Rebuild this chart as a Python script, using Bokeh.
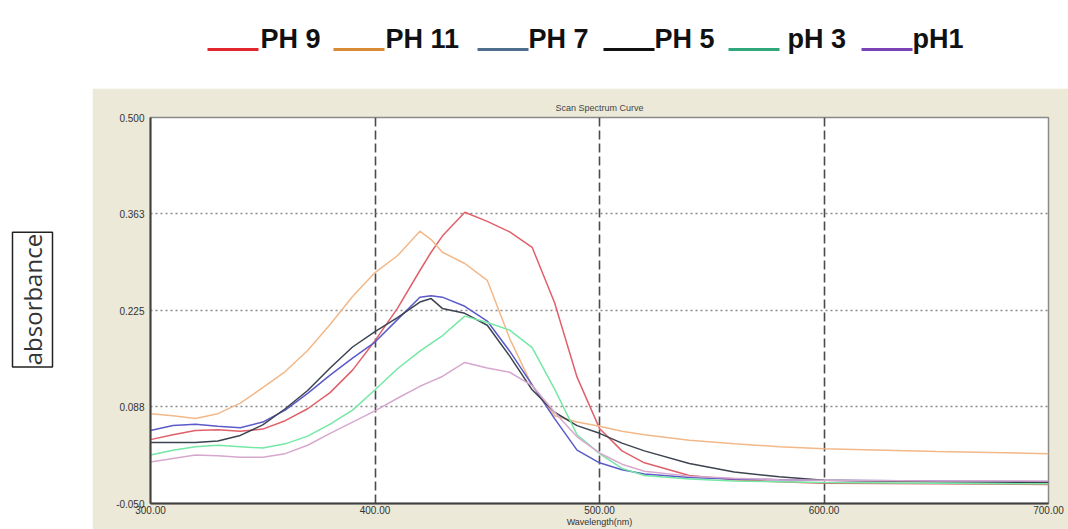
import math
from bokeh.plotting import figure
from bokeh.layouts import column, row
from bokeh.models import Range1d, FixedTicker, NumeralTickFormatter
from bokeh.core.properties import value
from bokeh.embed import file_html
from bokeh.resources import INLINE

# ---------------- data ----------------
wavelength = [300, 310, 320, 330, 340, 350, 360, 370, 380, 390, 400, 410, 420, 425,
              430, 440, 450, 460, 470, 480, 490, 500, 510, 520, 540, 560, 580, 600, 650, 700]

ph9 = [0.041, 0.048, 0.054, 0.055, 0.053, 0.056, 0.068, 0.085, 0.108, 0.140, 0.182, 0.228, 0.282, 0.308,
       0.331, 0.365, 0.352, 0.337, 0.315, 0.236, 0.130, 0.057, 0.025, 0.008, -0.010, -0.016, -0.019, -0.021, -0.022, -0.023]
ph11 = [0.078, 0.075, 0.071, 0.078, 0.093, 0.115, 0.138, 0.168, 0.205, 0.245, 0.279, 0.303, 0.338, 0.326,
        0.308, 0.292, 0.268, 0.185, 0.118, 0.075, 0.066, 0.060, 0.053, 0.048, 0.040, 0.035, 0.031, 0.028, 0.024, 0.021]
ph7 = [0.054, 0.061, 0.063, 0.060, 0.058, 0.066, 0.083, 0.107, 0.133, 0.157, 0.180, 0.212, 0.244, 0.246,
       0.244, 0.231, 0.210, 0.167, 0.119, 0.071, 0.026, 0.008, -0.002, -0.008, -0.013, -0.015, -0.016, -0.017, -0.018, -0.019]
ph5 = [0.037, 0.037, 0.037, 0.039, 0.047, 0.062, 0.085, 0.111, 0.143, 0.173, 0.195, 0.215, 0.237, 0.242,
       0.228, 0.221, 0.204, 0.160, 0.112, 0.080, 0.061, 0.050, 0.036, 0.025, 0.007, -0.005, -0.012, -0.017, -0.019, -0.020]
ph3 = [0.019, 0.026, 0.031, 0.033, 0.031, 0.029, 0.035, 0.046, 0.063, 0.083, 0.112, 0.142, 0.167, 0.178,
       0.189, 0.217, 0.208, 0.197, 0.172, 0.113, 0.048, 0.021, 0.000, -0.010, -0.015, -0.018, -0.019, -0.020, -0.021, -0.022]
ph1 = [0.009, 0.014, 0.019, 0.018, 0.016, 0.016, 0.021, 0.033, 0.050, 0.066, 0.082, 0.100, 0.117, 0.124,
       0.131, 0.151, 0.143, 0.137, 0.118, 0.080, 0.045, 0.022, 0.006, -0.004, -0.011, -0.014, -0.016, -0.017, -0.018, -0.018]

series_names = ["PH 9", "PH 11", "PH 7", "PH 5", "pH 3", "pH1"]
series_values = [ph9, ph11, ph7, ph5, ph3, ph1]
line_colors = ["#e0606a", "#f2b888", "#5a5ac8", "#3c4450", "#74e8a4", "#d6a8ce"]
legend_colors = ["#e3262e", "#d98a32", "#4e6e8e", "#111111", "#2ea87a", "#7a44b8"]

x_ticks = [300, 400, 500, 600, 700]
y_ticks = [-0.050, 0.088, 0.225, 0.363, 0.500]
x_grid_ticks = [400, 500, 600]
y_grid_ticks = [0.088, 0.225, 0.363]

title_text = "Scan Spectrum Curve"
x_label = "Wavelength(nm)"
y_label = "absorbance"

PANEL = "#ece9d8"

# ---------------- top legend strip ----------------
top = figure(width=1068, height=88, x_range=Range1d(0, 1068), y_range=Range1d(88, 0),
             x_axis_type=None, y_axis_type=None, toolbar_location=None,
             output_backend="svg", min_border=0)
top.outline_line_color = None
top.background_fill_color = "white"
top.border_fill_color = "white"

leg_line_x0 = [207, 333, 477, 603, 728, 861]
leg_line_len = 51
leg_text_x = [260, 385, 528, 654, 787, 912]
top.segment(x0=leg_line_x0, x1=[x + leg_line_len for x in leg_line_x0],
            y0=[49] * 6, y1=[49] * 6, line_color=legend_colors, line_width=3)
top.text(x=leg_text_x, y=[38] * 6, text=series_names,
         text_font=value("Liberation Sans"), text_font_style="bold",
         text_font_size="27px", text_color="#111111",
         text_align="left", text_baseline="alphabetic")

# ---------------- left y-label strip ----------------
left = figure(width=92, height=441, x_range=Range1d(0, 92), y_range=Range1d(441, 0),
              x_axis_type=None, y_axis_type=None, toolbar_location=None,
              output_backend="svg", min_border=0)
left.outline_line_color = None
left.background_fill_color = "white"
left.border_fill_color = "white"
left.quad(left=[12], right=[52], top=[131], bottom=[285],
          fill_color="white", line_color="#222222", line_width=1.5)
left.text(x=[32], y=[208], text=[y_label], angle=math.pi / 2,
          text_font=value("Open Sans"), text_font_size="24px", text_color="#333333",
          text_align="center", text_baseline="middle")

# ---------------- main chart ----------------
p = figure(width=976, height=441, x_range=Range1d(300, 700), y_range=Range1d(-0.05, 0.5),
           toolbar_location=None, output_backend="svg", title=title_text,
           min_border_left=58, min_border_right=20, min_border_top=29, min_border_bottom=26)
p.border_fill_color = PANEL
p.background_fill_color = "white"
p.outline_line_color = "#8a8a8a"
p.outline_line_width = 1.5

p.title.align = "center"
p.title.text_font = "Liberation Sans"
p.title.text_font_size = "9px"
p.title.text_font_style = "normal"
p.title.text_color = "#444444"
p.title.standoff = 10

p.xaxis.ticker = FixedTicker(ticks=x_ticks)
p.yaxis.ticker = FixedTicker(ticks=y_ticks)
p.xaxis.formatter = NumeralTickFormatter(format="0.00")
p.yaxis.formatter = NumeralTickFormatter(format="0.000")
p.xaxis.axis_label = x_label
for ax in (p.xaxis, p.yaxis):
    ax.major_label_text_font = "Liberation Sans"
    ax.major_label_text_font_size = "10px"
    ax.major_label_text_color = "#333333"
    ax.axis_label_text_font = "Liberation Sans"
    ax.axis_label_text_font_size = "9px"
    ax.axis_label_text_font_style = "normal"
    ax.axis_label_text_color = "#333333"
    ax.axis_label_standoff = 0
    ax.major_tick_out = 0
    ax.major_tick_in = 0
    ax.minor_tick_out = 0
    ax.minor_tick_in = 0
    ax.axis_line_color = "#404040"
    ax.axis_line_width = 2
p.xaxis.major_label_standoff = 2
p.yaxis.major_label_standoff = 6

p.xgrid.ticker = FixedTicker(ticks=x_grid_ticks)
p.ygrid.ticker = FixedTicker(ticks=y_grid_ticks)
p.xgrid.grid_line_color = "#4a4a4a"
p.xgrid.grid_line_width = 1.6
p.xgrid.grid_line_dash = "9 4"
p.ygrid.grid_line_color = "#8a8a8a"
p.ygrid.grid_line_width = 1.5
p.ygrid.grid_line_dash = "2 3"

for ys, c in zip(series_values, line_colors):
    p.line(wavelength, ys, line_color=c, line_width=1.5)

layout = column(top, row(left, p, spacing=0), spacing=0)

open("out.html", "w").write(file_html(layout, INLINE))
